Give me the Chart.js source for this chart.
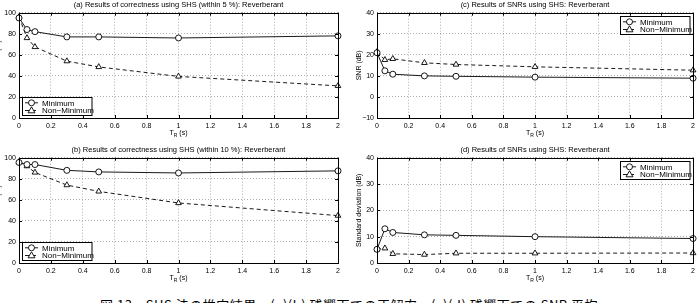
<!DOCTYPE html>
<html><head><meta charset="utf-8">
<script src="https://cdn.jsdelivr.net/npm/chart.js@4/dist/chart.umd.min.js"></script>
<style>
html,body{margin:0;padding:0;background:#fff;overflow:hidden;width:699px;height:303px;position:relative;}
.c{position:absolute;}
.c canvas{display:block;}
#cap{position:absolute;left:100px;top:298px;font-family:"Noto Sans CJK JP";font-size:13px;line-height:13px;letter-spacing:0.5px;white-space:nowrap;color:#000;}
</style></head><body>
<div class="c" style="left:-12px;top:0px"><canvas id="ca" width="357" height="145"></canvas></div>
<div class="c" style="left:-12px;top:145px"><canvas id="cb" width="357" height="145"></canvas></div>
<div class="c" style="left:350px;top:0px"><canvas id="cc" width="349" height="145"></canvas></div>
<div class="c" style="left:350px;top:145px"><canvas id="cd" width="349" height="145"></canvas></div>
<div id="cap">図 13　SHS 法の推定結果　(a)(b) 残響下での正解率，(c)(d) 残響下での SNR 平均</div>
<script>
// ---- data ----
const trValues = [0, 0.05, 0.1, 0.3, 0.5, 1, 2];
const seriesNames = ['Minimum', 'Non\u2212Minimum'];
const correct5Min  = [95, 84, 82, 77, 77, 76, 78];
const correct5Non  = [96, 76, 67.5, 54, 48.5, 39.5, 30.5];
const correct10Min = [95.5, 93.5, 93.5, 88, 86.5, 85.5, 87.5];
const correct10Non = [96, 92, 86, 74, 68, 57, 45];
const snrMin = [21, 12.4, 10.8, 10, 9.8, 9.4, 8.9];
const snrNon = [21.4, 17.6, 18.1, 16.2, 15.4, 14.3, 12.7];
const sdMin  = [5.2, 13, 11.6, 10.7, 10.5, 10, 9.3];
const sdNon  = [5.2, 5.6, 3.5, 3.2, 3.7, 3.7, 3.8];
const xTicks = [0, 0.2, 0.4, 0.6, 0.8, 1, 1.2, 1.4, 1.6, 1.8, 2];
const yTicksCorrect = [0, 20, 40, 60, 80, 100];
const yTicksSnr = [-10, 0, 10, 20, 30, 40];
const yTicksSd = [0, 10, 20, 30, 40];
const titleA = '(a) Results of correctness using SHS (within 5 %): Reverberant';
const titleB = '(b) Results of correctness using SHS (within 10 %): Reverberant';
const titleC = '(c) Results of SNRs using SHS: Reverberant';
const titleD = '(d) Results of SNRs using SHS: Reverberant';
const yTitleCorrect = 'Correctness (%)';
const yTitleSnr = 'SNR (dB)';
const yTitleSd = 'Standard deviation (dB)';

const FONT = '"Liberation Sans", Arial, sans-serif';

function marker(ctx, style, x, y, r) {
  ctx.beginPath();
  if (style === 'circle') {
    ctx.arc(x, y, r, 0, Math.PI * 2);
  } else {
    ctx.moveTo(x, y - r * 1.1);
    ctx.lineTo(x + r * 1.05, y + r * 0.7);
    ctx.lineTo(x - r * 1.05, y + r * 0.7);
    ctx.closePath();
  }
  ctx.fillStyle = '#fff';
  ctx.fill();
  ctx.stroke();
}

const framePlugin = {
  id: 'frame',
  afterDraw(chart, args, opts) {
    const {ctx, chartArea: a, scales} = chart;
    ctx.save();
    ctx.setLineDash([]);
    ctx.strokeStyle = '#000';
    ctx.lineWidth = 1;
    const tl = 3;
    ctx.beginPath();
    scales.x.ticks.forEach(t => {
      const px = Math.round(scales.x.getPixelForValue(t.value)) + 0.5;
      ctx.moveTo(px, a.bottom); ctx.lineTo(px, a.bottom - tl);
      ctx.moveTo(px, a.top); ctx.lineTo(px, a.top + tl);
    });
    scales.y.ticks.forEach(t => {
      const py = Math.round(scales.y.getPixelForValue(t.value)) + 0.5;
      ctx.moveTo(a.left, py); ctx.lineTo(a.left + tl, py);
      ctx.moveTo(a.right, py); ctx.lineTo(a.right - tl, py);
    });
    ctx.stroke();
    ctx.strokeRect(Math.round(a.left) + 0.5, Math.round(a.top) + 0.5,
                   Math.round(a.right - a.left), Math.round(a.bottom - a.top));

    // x axis title with subscript
    ctx.fillStyle = '#000';
    ctx.textBaseline = 'alphabetic';
    ctx.textAlign = 'left';
    const f1 = '7px ' + FONT, f2 = '5px ' + FONT;
    ctx.font = f1; const wT = ctx.measureText('T').width; const wS = ctx.measureText(' (s)').width;
    ctx.font = f2; const wR = ctx.measureText('R').width;
    const tot = wT + wR + wS;
    const x0 = (a.left + a.right) / 2 - tot / 2;
    const by = a.bottom + 16.5;
    ctx.font = f1; ctx.fillText('T', x0, by);
    ctx.font = f2; ctx.fillText('R', x0 + wT, by + 2.5);
    ctx.font = f1; ctx.fillText(' (s)', x0 + wT + wR, by);

    // legend
    const w = opts.w, h = 18, rowH = 7.7;
    let lx, ly;
    if (opts.pos === 'sw') { lx = a.left + 3; ly = a.bottom - 3 - h; }
    else { lx = a.right - 3.5 - w; ly = a.top + 3.5; }
    lx = Math.round(lx) + 0.5; ly = Math.round(ly) + 0.5;
    ctx.fillStyle = '#fff';
    ctx.fillRect(lx, ly, w, h);
    ctx.strokeStyle = '#000';
    ctx.strokeRect(lx, ly, w, h);
    chart.data.datasets.forEach((ds, i) => {
      const cy = ly + 5.3 + i * rowH;
      ctx.strokeStyle = '#000';
      ctx.lineWidth = 0.9;
      ctx.setLineDash(ds.borderDash || []);
      ctx.beginPath();
      ctx.moveTo(lx + 2.5, cy); ctx.lineTo(lx + 15.5, cy);
      ctx.stroke();
      ctx.setLineDash([]);
      marker(ctx, ds.pointStyle, lx + 9, cy, ds.pointRadius);
      ctx.fillStyle = '#000';
      ctx.font = '8px ' + FONT;
      ctx.textBaseline = 'middle';
      ctx.fillText(ds.label, lx + 19.5, cy + 0.5);
    });
    ctx.restore();
  }
};

function makeChart(id, title, yTitle, yTicks, minSeries, nonSeries, cfg) {
  const pts = arr => trValues.map((x, i) => ({x: x, y: arr[i]}));
  return new Chart(document.getElementById(id), {
    type: 'line',
    data: {
      datasets: [
        {label: seriesNames[0], data: pts(minSeries), borderColor: '#000', borderWidth: 0.9,
         pointStyle: 'circle', pointRadius: 3, pointBorderColor: '#000', pointBackgroundColor: '#fff',
         pointBorderWidth: 0.9, tension: 0, borderDash: []},
        {label: seriesNames[1], data: pts(nonSeries), borderColor: '#000', borderWidth: 0.9,
         pointStyle: 'triangle', pointRadius: 3.3, pointBorderColor: '#000', pointBackgroundColor: '#fff',
         pointBorderWidth: 0.9, tension: 0, borderDash: [4, 3]}
      ]
    },
    options: {
      responsive: false,
      animation: false,
      devicePixelRatio: 1,
      clip: false,
      layout: {padding: {top: 0, left: 0, bottom: 0, right: cfg.padRight}},
      plugins: {
        legend: {display: false},
        tooltip: {enabled: false},
        title: {display: true, text: title, color: '#000', fullSize: false,
                font: {family: FONT, size: 7.5, lineHeight: 1, weight: 'normal'},
                padding: {top: 1.25, bottom: 3.95}},
        frame: {pos: cfg.legendPos, w: 69.5}
      },
      scales: {
        x: {
          type: 'linear', min: 0, max: 2,
          afterBuildTicks: s => { s.ticks = xTicks.map(v => ({value: v})); },
          afterFit: s => { s.height = 27; },
          ticks: {color: '#000', font: {family: FONT, size: 7}, padding: 4,
                  maxRotation: 0, autoSkip: false,
                  callback: v => String(Number(v.toFixed(1)))},
          grid: {color: '#9a9a9a', lineWidth: 0.8, drawTicks: false},
          border: {display: false, dash: [1, 2]}
        },
        y: {
          min: yTicks[0], max: yTicks[yTicks.length - 1],
          afterBuildTicks: s => { s.ticks = yTicks.map(v => ({value: v})); },
          afterFit: s => { s.width = cfg.yWidth; },
          ticks: {color: '#000', font: {family: FONT, size: 7}, padding: 3,
                  callback: v => String(v).replace('-', '\u2212')},
          grid: {color: '#9a9a9a', lineWidth: 0.8, drawTicks: false},
          border: {display: false, dash: [1, 2]},
          title: {display: true, text: yTitle, color: '#000',
                  font: {family: FONT, size: 7}, padding: {top: cfg.yTitlePad, bottom: 0}}
        }
      }
    },
    plugins: [framePlugin]
  });
}

makeChart('ca', titleA, yTitleCorrect, yTicksCorrect, correct5Min, correct5Non,
          {padRight: 7, yWidth: 31, yTitlePad: 6, legendPos: 'sw'});
makeChart('cb', titleB, yTitleCorrect, yTicksCorrect, correct10Min, correct10Non,
          {padRight: 7, yWidth: 31, yTitlePad: 6, legendPos: 'sw'});
makeChart('cc', titleC, yTitleSnr, yTicksSnr, snrMin, snrNon,
          {padRight: 5, yWidth: 27, yTitlePad: 4.5, legendPos: 'ne'});
makeChart('cd', titleD, yTitleSd, yTicksSd, sdMin, sdNon,
          {padRight: 5, yWidth: 27, yTitlePad: 5, legendPos: 'ne'});
</script>
</body></html>
